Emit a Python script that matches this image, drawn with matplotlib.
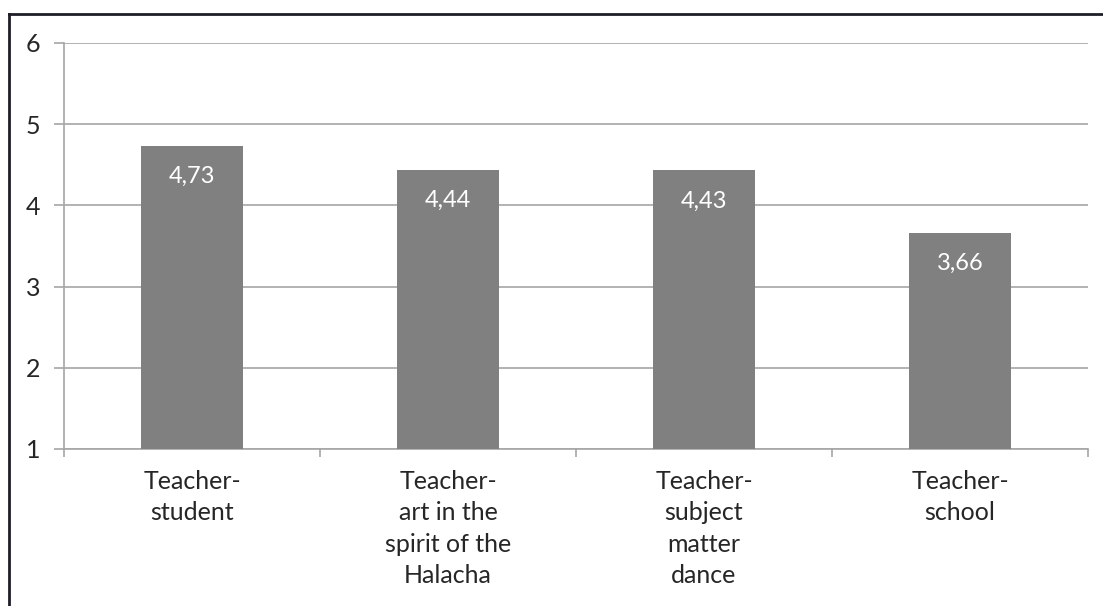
import matplotlib
matplotlib.use("Agg")
import matplotlib.pyplot as plt
from matplotlib.lines import Line2D

categories = ["Teacher-\nstudent",
              "Teacher-\nart in the\nspirit of the\nHalacha",
              "Teacher-\nsubject\nmatter\ndance",
              "Teacher-\nschool"]
values = [4.73, 4.44, 4.43, 3.66]
value_labels = ["4,73", "4,44", "4,43", "3,66"]
y_ticks = [1, 2, 3, 4, 5, 6]

plt.rcParams['font.family'] = ['Lato', 'DejaVu Sans']

TEXT = '#262626'
GRID = '#a6a6a6'

fig = plt.figure(figsize=(11.03, 6.06), dpi=100)
ax = fig.add_axes([64 / 1103, 1 - 449 / 606, (1088 - 64) / 1103, (449 - 43) / 606])

x = list(range(len(categories)))
base = y_ticks[0]
ax.bar(x, [v - base for v in values], bottom=base, width=0.4, color='#808080', zorder=3)

for xi, v, lab in zip(x, values, value_labels):
    ax.annotate(lab, (xi, v), xytext=(0, -22), textcoords='offset points',
                ha='center', va='center', color='white', fontsize=17)

ax.set_xlim(-0.5, len(categories) - 0.5)
ax.set_ylim(y_ticks[0], y_ticks[-1])
ax.set_yticks(y_ticks)
ax.set_yticklabels([str(t) for t in y_ticks], fontsize=18, color=TEXT)
ax.yaxis.grid(True, color=GRID, linewidth=1.2, zorder=0)

ax.set_xticks(x)
ax.set_xticklabels(categories, fontsize=18, color=TEXT, linespacing=1.45)
ax.set_xticks([i - 0.5 for i in range(len(categories) + 1)], minor=True)
ax.tick_params(axis='x', which='major', length=0, pad=15)
ax.tick_params(axis='x', which='minor', length=6, width=1.2, color=GRID, direction='out')
ax.tick_params(axis='y', length=7, width=1.2, color=GRID, direction='out', pad=10)

for side in ('top', 'right'):
    ax.spines[side].set_visible(False)
for side in ('left', 'bottom'):
    ax.spines[side].set_color(GRID)
    ax.spines[side].set_linewidth(1.2)

# outer frame: left and top edges
fx = 8.5 / 1103
fy = 1 - 13.5 / 606
fig.add_artist(Line2D([fx, fx], [0, fy], transform=fig.transFigure, color='#1e1e28', linewidth=2))
fig.add_artist(Line2D([fx, 1], [fy, fy], transform=fig.transFigure, color='#1e1e28', linewidth=2))

fig.savefig("out.png", dpi=100, facecolor='white')
